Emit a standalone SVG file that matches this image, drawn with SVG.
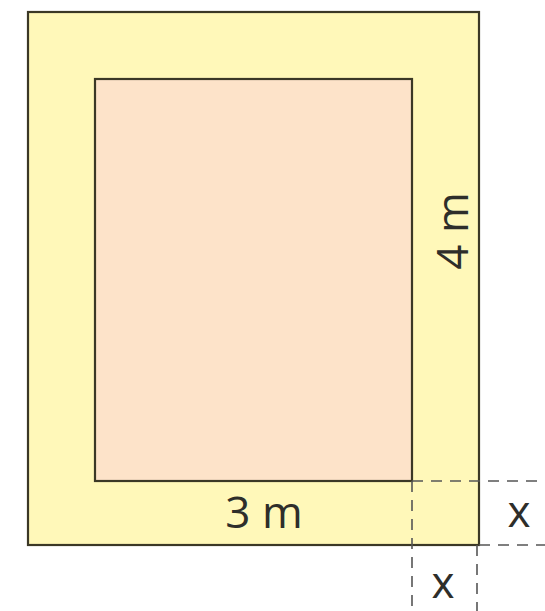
<svg xmlns="http://www.w3.org/2000/svg" width="545" height="611" viewBox="0 0 545 611">
<style>
.frame{stroke:#3b3826;stroke-width:2.2}
.dash{fill:none;stroke:#555;stroke-width:1.6;stroke-dasharray:11 8}
.lbl{font-family:"Open Sans","Noto Sans",sans-serif;font-size:44px;fill:#2e2e2a}
</style>
<rect width="545" height="611" fill="#ffffff"/>
<g id="outer"><rect class="frame" x="28" y="12" width="451" height="533" fill="#fff8b9"/></g>
<g id="inner"><rect class="frame" x="95" y="79" width="317" height="402" fill="#fde3c9"/></g>
<g id="connectors">
<line class="dash" x1="412" y1="481" x2="545" y2="481"/>
<line class="dash" x1="479" y1="545" x2="545" y2="545"/>
<line class="dash" x1="412" y1="481" x2="412" y2="611"/>
<line class="dash" x1="477" y1="545" x2="477" y2="611"/>
</g>
<g id="labels">
<text class="lbl" x="264" y="528" text-anchor="middle">3 m</text>
<text class="lbl" transform="translate(468,231) rotate(-90)" text-anchor="middle">4 m</text>
<text class="lbl" x="519" y="527" text-anchor="middle">x</text>
<text class="lbl" x="443" y="598" text-anchor="middle">x</text>
</g>
</svg>
